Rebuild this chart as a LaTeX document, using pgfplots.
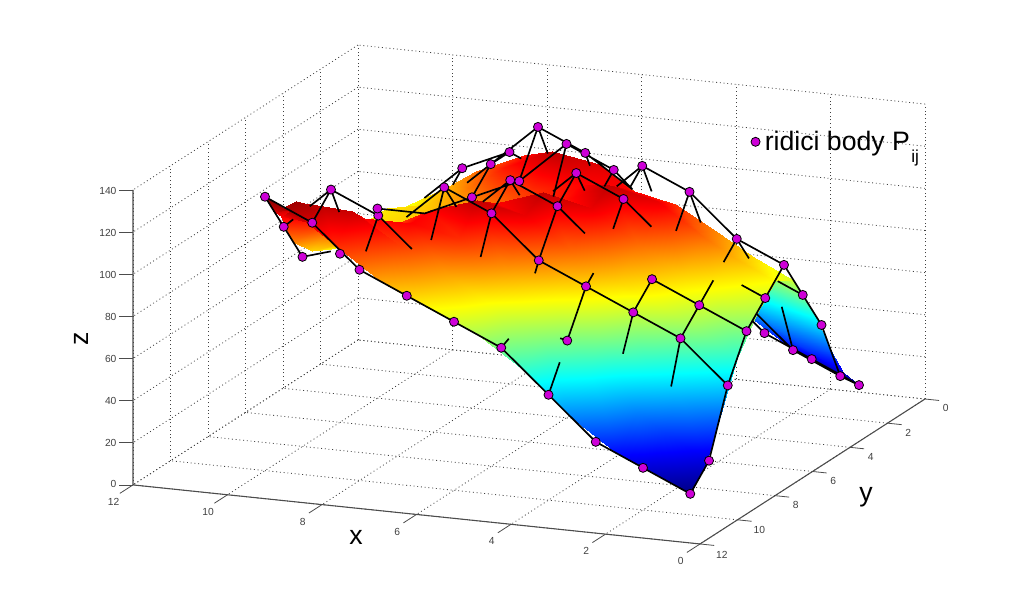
\documentclass[border=0pt]{standalone}
\usepackage{pgfplots}
\usepackage{fontspec}
\setmainfont{Liberation Sans}
\pgfplotsset{compat=1.18}
\definecolor{mymag}{RGB}{205,0,215}
\begin{document}
\begin{tikzpicture}[x=1pt,y=1pt]
\path[use as bounding box] (0,0) rectangle (767.25,458.25);
\begin{axis}[
  at={(693.75pt,159pt)}, anchor=origin,
  x={(-35.44pt,3.69pt)}, y={(-14.06pt,-9.06pt)}, z={(0pt,1.58pt)},
  xmin=0,xmax=12,ymin=0,ymax=12,zmin=0,zmax=140,
  xtick={0,2,...,12},ytick={0,2,...,12},ztick={0,20,...,140},
  grid=major,
  major grid style={dash pattern=on .7pt off 2.1pt,black!75,line width=.6pt},
  axis line style={draw=none},
  tick align=outside,
  major tick length=7pt,
  tick style={draw=none},
  tick label style={font=\fontsize{7.7}{9}\selectfont,text=black!75},
  xticklabel style={xshift=-5pt,yshift=-2.5pt},
  yticklabel style={xshift=3pt},
  zticklabel style={xshift=-3pt,yshift=5.5pt},
  /pgf/number format/assume math mode=true,
  clip=false,
  colormap/jet,
  point meta min=10,point meta max=130,
  legend style={draw=none,fill=none,font=\fontsize{20}{22}\selectfont,at={(0.78,0.806)},anchor=west,inner sep=0pt},
  legend cell align=left,
]
\addplot3[surf,shader=interp,z buffer=sort,mesh/cols=11,mesh/rows=11,point meta=z,forget plot] table[row sep=newline] {
x y z
1 1 10
1.875 1 18.75
2.5 1 25
3.5 1 40
4.5 1 60
5.5 1 75
6.5 1 85
7.5 1 90
8.5 1 85
9.125 1 78.75
10 1 70
1 1.875 21.25
1.875 1.875 31.72
2.5 1.875 40.6
3.5 1.875 58.1
4.5 1.875 74.1
5.5 1.875 85.9
6.5 1.875 96.25
7.5 1.875 103.1
8.5 1.875 99.4
9.125 1.875 91.3
10 1.875 78.1
1 2.5 35
1.875 2.5 48.1
2.5 2.5 57.5
3.5 2.5 72.5
4.5 2.5 86.25
5.5 2.5 98.75
6.5 2.5 110
7.5 2.5 112.5
8.5 2.5 102.5
9.125 2.5 93.75
10 2.5 82.5
1 3.5 60
1.875 3.5 72.5
2.5 3.5 80
3.5 3.5 90
4.5 3.5 103.75
5.5 3.5 118.75
6.5 3.5 122.5
7.5 3.5 112.5
8.5 3.5 97.5
9.125 3.5 91.25
10 3.5 87.5
1 4.5 80
1.875 4.5 89.4
2.5 4.5 97.5
3.5 4.5 110
4.5 4.5 115
5.5 4.5 115
6.5 4.5 110
7.5 4.5 101.25
8.5 4.5 93.75
9.125 4.5 90.3
10 4.5 87.5
1 5.5 85
1.875 5.5 94.4
2.5 5.5 102.5
3.5 5.5 117.5
4.5 5.5 122.5
5.5 5.5 112.5
6.5 5.5 105
7.5 5.5 102.5
8.5 5.5 95
9.125 5.5 89.4
10 5.5 82.5
1 6.5 75
1.875 6.5 83.75
2.5 6.5 90
3.5 6.5 102.5
4.5 6.5 117.5
5.5 6.5 122.5
6.5 6.5 115
7.5 6.5 108.75
8.5 6.5 100
9.125 6.5 92.5
10 6.5 85
1 7.5 60
1.875 7.5 72.5
2.5 7.5 80
3.5 7.5 90
4.5 7.5 102.5
5.5 7.5 117.5
6.5 7.5 122.5
7.5 7.5 115
8.5 7.5 103.75
9.125 7.5 97.2
10 7.5 90
1 8.5 35
1.875 8.5 48.1
2.5 8.5 57.5
3.5 8.5 72.5
4.5 8.5 83.75
5.5 8.5 96.25
6.5 8.5 110
7.5 8.5 115
8.5 8.5 115
9.125 8.5 113
10 8.5 100
1 9.125 21.25
1.875 9.125 31.72
2.5 9.125 40.6
3.5 9.125 58.1
4.5 9.125 72.2
5.5 9.125 84.1
6.5 9.125 96.25
7.5 9.125 107.5
8.5 9.125 121.5
9.125 9.125 122.5
10 9.125 116
1 10 10
1.875 10 18.75
2.5 10 25
3.5 10 40
4.5 10 60
5.5 10 75
6.5 10 85
7.5 10 95
8.5 10 110
9.125 10 120
10 10 130
};
\addplot3[surf,shader=interp,z buffer=sort,mesh/cols=3,mesh/rows=3,point meta=z,forget plot] table[row sep=newline] {
x y z
9.125 9.125 122.5
9.53 9.125 123
10 9.125 116
9.125 9.53 123
9.53 9.53 126.5
10 9.53 120
9.125 10 120
9.53 10 125
10 10 130
};
\addplot3[black,line width=1.25pt,no marks,empty line=jump,forget plot] table[row sep=newline] {
x y z
1 10 10
2 10 20
3 10 30
4 10 50
5 10 70
6 10 80
7 10 90
8 10 100
9 10 120
10 10 130

1 1 10
1 2 20
1 3 50
1 4 70
1 5 90
1 6 80
1 7 70
1 8 50
1 9 20
1 10 10

1 8 50
2 8 70
3 8 80
4 8 90
5 8 100
6 8 120
7 8 130
7.8 8 114

1 7 70
2 7 80
3 7 90

2 6.25 87.5
2 7 80
2 8 70
2 8.5 50

3 7 90
3 8 80
3 8.55 63.5

4 7.6 94
4 8 90
4 9 70
4.15 9 70.75

4 9.4 62
4 10 50

5 7 120
5 8 100
5 8.2 95

5 10 70
5 9.6 72

6 7 130
6 8 120
6 8.58 102.6

7 7.35 117
7 8 130
7 8.7 109

8 9.66 106.8
8 9 120
7.29 9 105.8

8 9 120
9 9 130
9 10 120

9 8.56 116.8
9 9 130
9.45 9 121

10 9 110
9.8 9 114

10 10 130
10 9 110
10 8 90
9.4 8 94

10 4 90
9 4 90
8 4 100
7 4 110

8 4 100
8 3 110
7 3 130

8 3 110
8.5 3 100

8 3 110
8 2 110
9 2 100
9.8 2 84

9 2 100
9 2.5 95

8 2 110
7.75 2 107.5

7 3 130
7 4 110
6 4 130
6 3 120
7 3 130

7 3 130
7 2.48 114.4

6 4.7 109
6 4 130
5 4 120
5 3 105
6 3 120
6 2.75 112.5

5 4.5 115
5 4 120

4 4.5 115
4 5 130
3 5 120
2 5 100
1 5 90

4 5 130
4.54 5 119

4 5 130
4 5.64 123.6

3 5 120
3 5.72 105.6

3 5 120
3 4.4 102

2 5 100
2 5.7 93

2 5 100
2 4.35 87

1 6 80
1.5 6 85

1 4 70
1.53 4 75.3

4 6.55 109
4 6 120
5 6 130
5 7 120
6 7 130
6 6.5 120

4 6 120
3.41 6 108.2

5 6 130
5 5.55 119

5 6 130
5.49 6 120.2

5 7 120
4.42 7 108.4

6 7 130
6.58 7 118.4

2 2.6 54
2 2 30
2 1 20
1 1 10

1 2 20
2 2 30
2.78 2 45.6

2 1 20
3 1 30
3.25 1 35
};
\addplot3[only marks,mark=*,mark size=3.4pt,mark options={fill=mymag,draw=black,line width=.6pt}] table[row sep=newline] {
x y z
1 1 10
1 2 20
1 3 50
1 4 70
1 5 90
1 6 80
1 7 70
1 8 50
1 9 20
1 10 10
2 1 20
2 2 30
2 5 100
2 7 80
2 8 70
2 10 20
3 1 30
3 5 120
3 7 90
3 8 80
3 10 30
4 5 130
4 6 120
4 8 90
4 9 70
4 10 50
5 4 120
5 6 130
5 7 120
5 8 100
5 10 70
6 3 120
6 4 130
6 7 130
6 8 120
6 10 80
7 3 130
7 4 110
7 8 130
7 10 90
8 2 110
8 3 110
8 4 100
8 9 120
8 10 100
9 2 100
9 9 130
9 10 120
10 4 90
10 6 80
10 8 90
10 9 110
10 10 130
};
\addlegendentry{\hspace*{1.5pt}ridici body P\hspace{1pt}\raisebox{-9pt}{\fontsize{13}{13}\selectfont ij}}
\draw[black!70,line width=.8pt] (axis cs:12,12,140) -- (axis cs:12,12,0) -- (axis cs:0,12,0) -- (axis cs:0,0,0);
\pgfplotsinvokeforeach{0,2,4,6,8,10,12}{
  \draw[black!70,line width=.6pt] (axis cs:#1,12,0) -- (axis cs:#1,12.7,0);
  \draw[black!70,line width=.6pt] (axis cs:0,#1,0) -- (axis cs:-0.3,#1,0);
}
\pgfplotsinvokeforeach{0,20,40,60,80,100,120,140}{
  \draw[black!70,line width=.6pt] (axis cs:12,12,#1) -- ++(-10.5pt,0pt);
}
\end{axis}
\node[font=\fontsize{20}{22}\selectfont] at (267,55) {x};
\node[font=\fontsize{20}{22}\selectfont] at (649.5,85.5) {y};
\node[font=\fontsize{20}{22}\selectfont,rotate=90] at (60.75,204) {z};
\end{tikzpicture}
\end{document}
